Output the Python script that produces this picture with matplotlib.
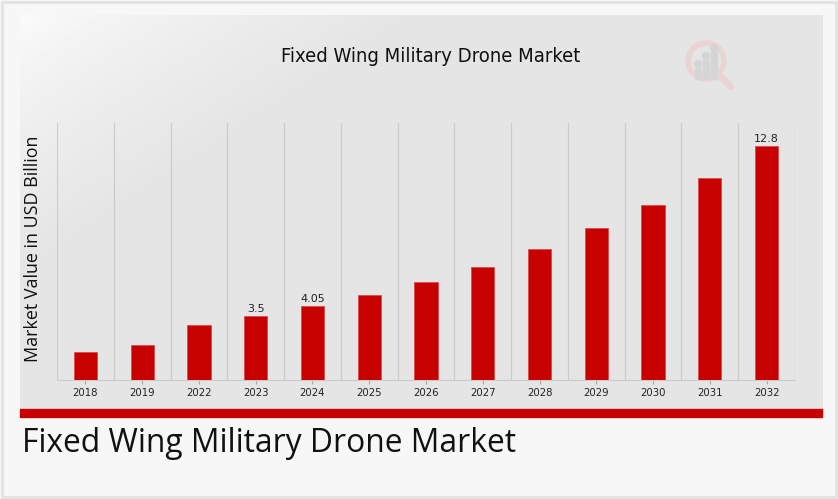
import numpy as np
import matplotlib.pyplot as plt
from matplotlib.patches import Rectangle, Circle

years = ["2018", "2019", "2022", "2023", "2024", "2025", "2026",
         "2027", "2028", "2029", "2030", "2031", "2032"]
values = [1.55, 1.93, 3.0, 3.5, 4.05, 4.65, 5.38, 6.2, 7.17, 8.3, 9.57, 11.07, 12.8]
labels = {"2023": "3.5", "2024": "4.05", "2032": "12.8"}

title = "Fixed Wing Military Drone Market"
ylab = "Market Value in USD Billion"

W, H = 838, 499
fig = plt.figure(figsize=(W / 100, H / 100), dpi=100)
fig.patch.set_facecolor("#f7f7f7")

# page background + borders
bg = fig.add_axes([0, 0, 1, 1])
bg.set_xlim(0, W)
bg.set_ylim(H, 0)
bg.axis("off")
bg.add_patch(Rectangle((2, 2), 834, 495, fill=False, ec="#e2e2e2", lw=2))

# gradient panel
gx = np.linspace(0, 1, 200)
gy = np.linspace(0, 1, 120)
X, Y = np.meshgrid(gx, gy)
t = np.clip((X * 0.8 + Y * 0.6) * 2.5, 0, 1) ** 0.7
grad = 0.985 - 0.09 * t
bg.imshow(grad, extent=(20, 822, 409, 15), cmap="gray", vmin=0, vmax=1,
          aspect="auto", zorder=1)
bg.add_patch(Rectangle((20, 409), 802, 7.5, color="#c70000", zorder=2))
bg.text(22, 443, title, fontsize=22.9, family="Open Sans", color="#111111",
        va="center", ha="left", zorder=3)

# watermark logo
bg.add_patch(Circle((706, 61), 18, fill=False, ec="#ead3d5", lw=4, zorder=2))
bg.plot([719, 731], [75, 87], color="#ead3d5", lw=5, solid_capstyle="round", zorder=2)
for bx, bt in [(698, 68), (706, 60), (714, 52)]:
    bg.add_patch(Rectangle((bx - 3, bt), 6, 79 - bt, color="#d5d5d5", zorder=3))
    bg.add_patch(Circle((bx, bt - 4), 3.5, color="#d5d5d5", zorder=3))
bg.text(431, 56, title, fontsize=14.5, family="DejaVu Sans", fontstretch="condensed",
        color="#111111", ha="center", va="center", zorder=3)

ax = fig.add_axes([57 / W, 119 / H, 738 / W, 257 / H])
ax.patch.set_alpha(0)
x = np.arange(len(years))
bars = ax.bar(x, values, width=0.41, color="#c70000", edgecolor="#d84a4a",
              linewidth=0.6, zorder=3)
for xi, y, v in zip(x, values, years):
    if v in labels:
        ax.text(xi, y + 0.1, labels[v], ha="center", va="bottom",
                fontsize=8, color="#222222")

ax.set_xlim(-0.5, len(years) - 0.5)
ax.set_ylim(0, 14.06)
for g in np.arange(-0.5, len(years), 1.0):
    ax.axvline(g, color="#cccccc", lw=0.9, zorder=1)
ax.set_xticks(x)
ax.set_xticklabels(years, fontsize=7.3, color="#222222")
ax.tick_params(axis="x", length=3, color="#aaaaaa", pad=3)
ax.set_yticks([])
for s in ["top", "right", "left"]:
    ax.spines[s].set_visible(False)
ax.spines["bottom"].set_color("#cccccc")

fig.text(33 / W, 1 - 249 / H, ylab, rotation=90, fontsize=12.9,
         family="Open Sans", color="#111111", ha="center", va="center")

fig.savefig("out.png", dpi=100, facecolor=fig.get_facecolor())
